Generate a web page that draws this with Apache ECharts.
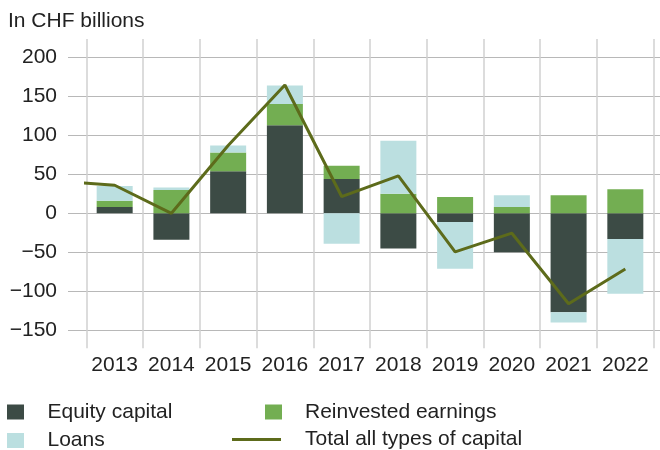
<!DOCTYPE html>
<html>
<head>
<meta charset="utf-8">
<script src="https://cdn.jsdelivr.net/npm/echarts@6/dist/echarts.min.js"></script>
<style>
    html, body { margin: 0; padding: 0; background: #fff; }
    #chart { width: 660px; height: 450px; }
</style>
</head>
<body>
<div id="chart"></div>
<script>
// years on the category axis
var years = ['2013', '2014', '2015', '2016', '2017', '2018', '2019', '2020', '2021', '2022'];
// components, CHF billions
var equity = [8, -34, 54, 113, 44, -45, -11, -50, -127, -33];
var reinvested = [8, 30, 24, 27, 17, 25, 21, 8, 23, 31];
var loans = [19, 3, 9, 24, -39, 68, -60, 15, -13, -70];
// total line (2012 point is clipped at the left edge)
var totalYears = [2012, 2013, 2014, 2015, 2016, 2017, 2018, 2019, 2020, 2021, 2022];
var total = [41, 36, 0, 87, 164.5, 21.5, 48, -49.5, -25.5, -116, -71.5];
var yTicks = [-150, 200, 50]; // min, max, step

var FONT = '"Liberation Sans", Arial, sans-serif';
var TXT = '#222';

var chart = echarts.init(document.getElementById('chart'));

function legendBox(name, left, top, w, h, pad) {
    return {
        data: [name],
        left: left,
        top: top,
        padding: 0,
        icon: 'rect',
        itemWidth: w,
        itemHeight: h,
        selectedMode: false,
        textStyle: {fontSize: 21, color: TXT, fontFamily: FONT, padding: [0, 0, 0, pad]}
    };
}

var option = {
    animation: false,
    backgroundColor: '#fff',
    title: {
        text: 'In CHF billions',
        left: 8,
        top: 11,
        padding: 0,
        textStyle: {fontSize: 21, fontWeight: 'normal', color: TXT, fontFamily: FONT}
    },
    legend: [
        legendBox('Equity capital', 7, 401.5, 17, 15, 18.5),
        legendBox('Loans', 7, 430, 17, 15, 18.5),
        legendBox('Reinvested earnings', 265, 401.5, 17, 15, 18),
        legendBox('Total all types of capital', 232, 429, 49, 3, 19)
    ],
    grid: [
        // horizontal grid lines + y labels
        {left: 68, right: 0, top: 57.3, height: 273},
        // bars, line, vertical lines
        {left: 86.3, right: 6.3, top: 39, bottom: 101.7}
    ],
    xAxis: [
        {gridIndex: 0, type: 'value', show: false, min: 0, max: 1},
        {
            gridIndex: 1,
            type: 'category',
            data: years,
            axisLine: {show: false},
            axisTick: {show: false},
            axisLabel: {interval: 0, fontSize: 21, color: TXT, fontFamily: FONT, margin: 6},
            splitLine: {show: true, interval: 0, lineStyle: {color: '#d0d0d0', width: 1.5}}
        },
        {gridIndex: 1, type: 'value', show: false, min: 2012.5, max: 2022.5}
    ],
    yAxis: [
        {
            gridIndex: 0,
            type: 'value',
            min: yTicks[0],
            max: yTicks[1],
            interval: yTicks[2],
            axisLine: {show: false},
            axisTick: {show: false},
            axisLabel: {
                fontSize: 21, color: TXT, fontFamily: FONT, margin: 11,
                formatter: function (v) { return String(v).replace('-', '\u2212'); }
            },
            splitLine: {lineStyle: {color: '#b8b8b8', width: 1}}
        },
        {gridIndex: 1, type: 'value', show: false, min: -173.1, max: 223.5}
    ],
    series: [
        {
            name: 'Equity capital', type: 'bar', stack: 'cap',
            xAxisIndex: 1, yAxisIndex: 1, barWidth: 36,
            itemStyle: {color: '#3c4b45'},
            data: equity
        },
        {
            name: 'Reinvested earnings', type: 'bar', stack: 'cap',
            xAxisIndex: 1, yAxisIndex: 1, barWidth: 36,
            itemStyle: {color: '#73ae52'},
            data: reinvested
        },
        {
            name: 'Loans', type: 'bar', stack: 'cap',
            xAxisIndex: 1, yAxisIndex: 1, barWidth: 36,
            itemStyle: {color: '#bbdfe0'},
            data: loans
        },
        {
            name: 'Total all types of capital', type: 'line',
            xAxisIndex: 2, yAxisIndex: 1,
            symbol: 'none', clip: true, z: 5,
            lineStyle: {color: '#5d6b1b', width: 3},
            itemStyle: {color: '#5d6b1b'},
            data: totalYears.map(function (y, i) { return [y, total[i]]; })
        }
    ]
};

chart.setOption(option);
</script>
</body>
</html>
